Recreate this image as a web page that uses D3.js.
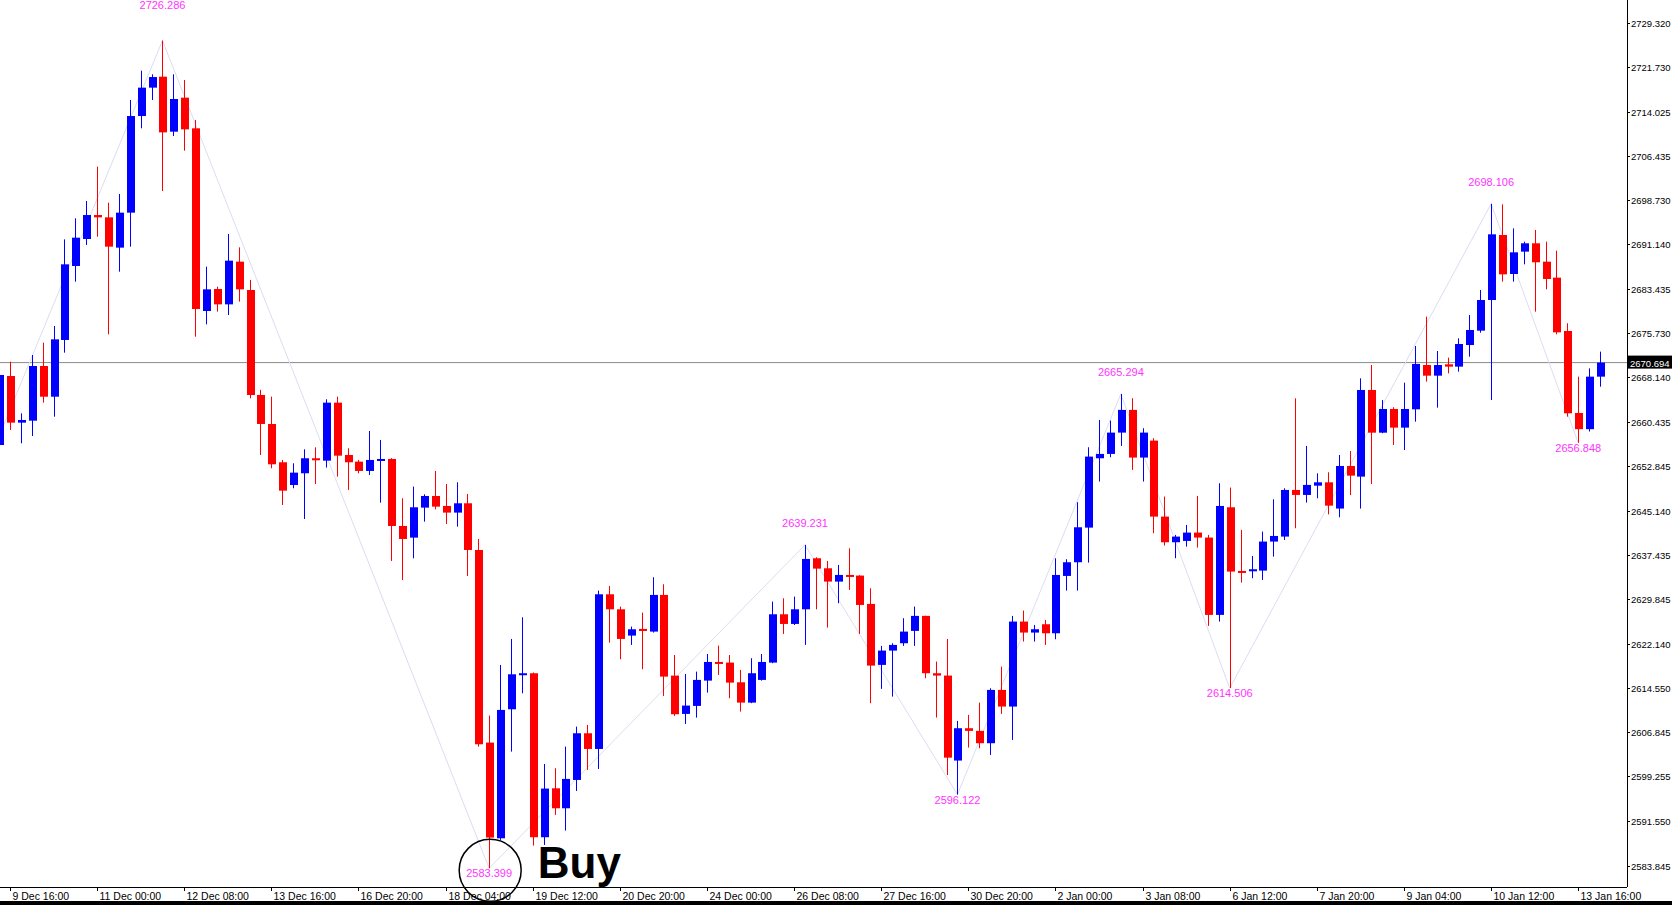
<!DOCTYPE html>
<html><head><meta charset="utf-8">
<script src="https://cdn.jsdelivr.net/npm/d3@7"></script>
<style>body{margin:0;background:#fff}svg{display:block}</style>
</head><body>
<svg id="c" width="1672" height="905"></svg>
<script>
const opens=[2656.47,2668.38,2660.33,2660.67,2670.11,2664.81,2674.60,2687.37,2692.03,2696.17,2695.77,2690.54,2696.58,2713.26,2718.16,2720.05,2710.56,2716.43,2711.14,2679.60,2683.40,2680.75,2688.12,2683.23,2665.11,2660.10,2653.49,2649.57,2651.59,2654.18,2653.77,2663.78,2654.75,2653.60,2651.99,2653.77,2654.06,2642.49,2640.48,2645.66,2647.67,2645.95,2644.80,2646.41,2638.35,2605.10,2588.58,2610.85,2616.78,2617.07,2588.76,2597.21,2593.76,2598.65,2606.71,2604.0,2630.70,2628.11,2623.57,2624.72,2624.26,2630.59,2616.66,2610.05,2611.43,2615.80,2619.02,2618.91,2615.51,2612.0,2615.92,2618.91,2627.25,2625.58,2628.11,2636.92,2635.19,2632.89,2634.04,2633.93,2629.04,2618.51,2620.98,2622.25,2624.38,2626.97,2617.07,2616.67,2602.0,2607.58,2607.12,2604.99,2614.19,2611.32,2625.99,2624.09,2625.53,2623.97,2633.87,2636.23,2642.21,2654.18,2654.93,2658.61,2662.53,2654.30,2657.23,2644.11,2639.68,2639.91,2641.35,2640.49,2627.14,2645.72,2634.73,2634.67,2634.79,2639.80,2640.66,2648.71,2647.85,2649.45,2650.03,2645.5,2652.85,2651.01,2665.97,2658.60,2662.69,2659.47,2662.63,2670.28,2668.44,2670.40,2670.0,2673.73,2676.21,2681.50,2692.72,2685.99,2689.85,2691.29,2688.12,2685.36,2676.15,2662.0,2659.2,2668.27];
const highs=[2668.8,2670.86,2661.94,2672.01,2674.14,2677.02,2691.97,2695.60,2698.59,2704.52,2698.30,2699.80,2716.03,2721.09,2720.46,2726.29,2720.46,2719.48,2712.57,2687.26,2683.80,2692.89,2690.59,2684.95,2666.0,2664.82,2653.89,2653.31,2655.73,2656.07,2664.36,2664.82,2655.90,2653.89,2658.89,2657.34,2654.2,2647.27,2649.29,2647.96,2651.99,2649.75,2650.03,2648.02,2640.25,2609.76,2618.5,2622.99,2626.73,2617.2,2601.41,2600.67,2604.41,2607.86,2608.15,2631.34,2632.14,2628.57,2625.12,2627.54,2633.64,2632.43,2620.23,2616.95,2617.35,2620.40,2621.84,2620.23,2617.64,2619.66,2620.40,2629.44,2630.01,2630.30,2639.23,2637.09,2636.46,2635.77,2638.64,2634.0,2631.74,2621.79,2622.25,2626.57,2628.58,2627.0,2619.08,2622.99,2608.84,2609.88,2612.0,2614.48,2618.22,2626.97,2627.89,2625.41,2626.28,2636.92,2636.75,2646.59,2656.08,2660.80,2660.69,2665.29,2664.54,2659.36,2657.64,2647.57,2640.95,2642.67,2647.68,2640.95,2649.87,2649.12,2641.81,2637.32,2641.52,2647.10,2648.99,2664.53,2656.31,2651.58,2651.76,2654.75,2655.44,2667.98,2670.28,2664.24,2662.98,2667.23,2673.56,2678.63,2672.70,2671.55,2674.89,2678.91,2683.23,2698.11,2698.02,2693.87,2691.57,2693.59,2691.57,2690.02,2677.48,2668.27,2669.70,2672.59];
const lows=[2656.2,2659.06,2656.76,2658.03,2663.78,2661.36,2672.41,2684.67,2691.00,2692.43,2675.58,2686.39,2690.71,2711.14,2716.03,2700.32,2709.81,2707.28,2675.17,2677.30,2679.49,2678.91,2681.22,2664.53,2654.75,2652.45,2646.12,2649.0,2643.70,2649.74,2652.57,2651.01,2648.71,2651.59,2651.30,2646.52,2636.45,2633.17,2636.91,2643.24,2645.37,2642.84,2642.38,2633.86,2604.4,2583.40,2588.30,2603.54,2613.61,2587.32,2587.43,2592.61,2589.91,2596.75,2600.38,2600.55,2622.36,2619.48,2621.96,2617.76,2624.09,2613.15,2609.70,2608.32,2609.41,2613.73,2616.78,2612.75,2610.45,2611.9,2615.8,2618.8,2623.86,2625.4,2621.96,2628.11,2624.95,2629.15,2631.45,2623.86,2611.89,2614.37,2613.04,2621.79,2621.79,2616.21,2609.42,2599.5,2596.12,2604.24,2604.12,2602.97,2610.05,2605.56,2622.54,2622.54,2621.96,2622.94,2631.34,2631.34,2636.17,2650.16,2654.36,2656.31,2652.17,2650.16,2641.24,2639.11,2636.92,2638.93,2638.76,2625.24,2625.99,2614.51,2632.72,2633.47,2633.18,2637.21,2640.08,2642.10,2646.53,2647.27,2644.5,2644.0,2647.84,2645.5,2649.74,2658.5,2656.47,2655.61,2660.50,2667.41,2662.92,2668.84,2669.13,2671.72,2675.86,2664.24,2684.67,2684.67,2687.66,2679.49,2683.35,2675.58,2661.36,2656.85,2658.8,2666.54];
const closes=[2668.56,2660.33,2660.79,2670.11,2664.81,2674.71,2687.66,2692.26,2696.17,2695.77,2690.71,2696.58,2713.26,2718.16,2719.99,2710.44,2716.20,2710.96,2679.95,2683.34,2680.75,2688.29,2683.34,2665.10,2660.10,2653.14,2648.59,2651.70,2654.18,2653.89,2663.78,2654.63,2653.49,2651.99,2653.89,2654.06,2642.49,2640.25,2645.72,2647.67,2645.83,2644.80,2646.41,2638.35,2604.81,2588.70,2610.74,2616.89,2617.07,2588.76,2597.16,2593.76,2598.83,2606.71,2604.0,2630.70,2628.11,2622.99,2624.66,2624.37,2630.59,2616.49,2609.99,2611.49,2615.92,2619.02,2618.68,2615.45,2612.0,2617.07,2619.02,2627.25,2625.58,2628.11,2636.80,2635.13,2632.89,2634.04,2633.87,2628.86,2618.39,2620.98,2621.96,2624.26,2626.97,2617.07,2616.67,2602.5,2607.58,2607.12,2604.99,2614.19,2611.32,2625.99,2624.09,2624.67,2623.97,2634.04,2636.23,2642.27,2654.47,2654.93,2658.61,2662.53,2654.30,2658.61,2644.11,2639.68,2640.66,2641.35,2640.49,2627.14,2645.95,2634.62,2634.56,2635.02,2639.80,2640.77,2648.71,2647.85,2649.58,2650.03,2646.0,2652.85,2651.18,2665.97,2658.60,2662.69,2659.47,2662.69,2670.46,2668.44,2670.28,2670.0,2673.91,2676.32,2681.50,2692.84,2685.93,2689.73,2691.29,2688.01,2685.13,2675.92,2661.94,2659.2,2668.27,2670.694];
const firstIndex=-1;
const priceTicks=[2729.320,2721.730,2714.025,2706.435,2698.730,2691.140,2683.435,2675.730,2668.140,2660.435,2652.845,2645.140,2637.435,2629.845,2622.140,2614.550,2606.845,2599.255,2591.550,2583.845];
const dateLabels=["9 Dec 16:00","11 Dec 00:00","12 Dec 08:00","13 Dec 16:00","16 Dec 20:00","18 Dec 04:00","19 Dec 12:00","20 Dec 20:00","24 Dec 00:00","26 Dec 08:00","27 Dec 16:00","30 Dec 20:00","2 Jan 00:00","3 Jan 08:00","6 Jan 12:00","7 Jan 20:00","9 Jan 04:00","10 Jan 12:00","13 Jan 16:00"];
const dateIndex=[0,8,16,24,32,40,48,56,64,72,80,88,96,104,112,120,128,136,144];
const pivotIndex=[-1,14,44,73,87,102,112,136,144];
const pivotPrice=[2658,2726.286,2583.399,2639.231,2596.122,2665.294,2614.506,2698.106,2656.848];
const pivotType=["start","high","low","high","low","high","low","high","low"];
const currentPrice=2670.694;

const W=1672,H=905,axisX=1627,axisY=887;
const FONT="Liberation Sans, Arial, sans-serif";
const svg=d3.select("#c");
const x=d3.scaleLinear().domain([0,146]).range([10,1600]);
const y=d3.scaleLinear().domain([2580.17,2733.29]).range([axisY,0]);
const g=svg.append("g");
g.append("clipPath").attr("id","cp").append("rect").attr("x",0).attr("y",0).attr("width",axisX).attr("height",axisY);
const plot=g.append("g").attr("clip-path","url(#cp)");

plot.append("line").attr("x1",0).attr("x2",axisX).attr("y1",y(currentPrice)).attr("y2",y(currentPrice)).attr("stroke","#8a8a8a").attr("stroke-width",1);

plot.append("path").datum(pivotIndex.map((d,k)=>[d,pivotPrice[k]]))
 .attr("d",d3.line().x(d=>x(d[0])).y(d=>y(d[1]))).attr("fill","none").attr("stroke","#dcdcf2").attr("stroke-width",1);

const data=opens.map((o,k)=>({i:k+firstIndex,o,h:highs[k],l:lows[k],c:closes[k]}));
const col=d=>d.c>=d.o?"#0000ff":"#ff0000";
plot.selectAll(".wick").data(data).enter().append("line")
 .attr("x1",d=>Math.round(x(d.i))+0.5).attr("x2",d=>Math.round(x(d.i))+0.5)
 .attr("y1",d=>y(d.h)).attr("y2",d=>y(d.l)).attr("stroke",col).attr("stroke-width",1);
plot.selectAll(".body").data(data).enter().append("rect")
 .attr("x",d=>Math.round(x(d.i))-3).attr("width",8)
 .attr("y",d=>y(Math.max(d.o,d.c))).attr("height",d=>Math.max(2,Math.abs(y(d.o)-y(d.c))))
 .attr("fill",col);

pivotIndex.forEach((d,k)=>{
 if(pivotType[k]==="start")return;
 const yy=y(pivotPrice[k]);
 let ty=pivotType[k]==="high"?yy-18:yy+9;
 if(k===1) ty=9;
 plot.append("text").attr("x",x(d)).attr("y",ty)
  .attr("text-anchor","middle").attr("fill","#ff33ff").attr("font-family",FONT).attr("font-size",11)
  .text(pivotPrice[k].toFixed(3));
});

g.append("line").attr("x1",axisX+0.5).attr("x2",axisX+0.5).attr("y1",0).attr("y2",axisY).attr("stroke","#000");
g.append("line").attr("x1",0).attr("x2",axisX).attr("y1",axisY+0.5).attr("y2",axisY+0.5).attr("stroke","#000");
g.append("rect").attr("x",0).attr("y",901).attr("width",W).attr("height",4).attr("fill","#000");
priceTicks.forEach(p=>{
 g.append("line").attr("x1",axisX).attr("x2",axisX+3).attr("y1",Math.round(y(p))+0.5).attr("y2",Math.round(y(p))+0.5).attr("stroke","#000");
 g.append("text").attr("x",axisX+4).attr("y",y(p)+4).attr("font-family",FONT).attr("font-size",9.5)
  .attr("fill","#000").text(p.toFixed(3));
});
g.append("rect").attr("x",axisX+1).attr("y",y(currentPrice)-7).attr("width",W-axisX-1).attr("height",13).attr("fill","#000");
g.append("text").attr("x",axisX+3).attr("y",y(currentPrice)+4).attr("font-family",FONT).attr("font-size",9.5)
 .attr("fill","#fff").text(currentPrice.toFixed(3));
dateIndex.forEach((d,k)=>{
 const xx=Math.round(x(d))+0.5;
 g.append("line").attr("x1",xx).attr("x2",xx).attr("y1",axisY).attr("y2",axisY+4).attr("stroke","#000");
 g.append("text").attr("x",xx+2).attr("y",axisY+13).attr("font-family",FONT).attr("font-size",10.5).attr("fill","#000").text(dateLabels[k]);
});

g.append("circle").attr("cx",x(44)+1).attr("cy",y(2583.399)+2).attr("r",31).attr("fill","none").attr("stroke","#000").attr("stroke-width",1.5);
g.append("text").attr("x",x(47)+16).attr("y",y(2583.399)+10).attr("font-family",FONT).attr("font-weight","bold").attr("font-size",44).attr("fill","#000").text("Buy");
</script>
</body></html>
